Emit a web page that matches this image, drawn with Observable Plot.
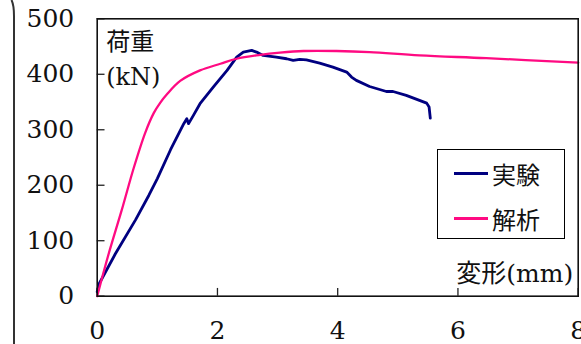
<!DOCTYPE html>
<html>
<head>
<meta charset="utf-8">
<script src="https://cdn.jsdelivr.net/npm/d3@7"></script>
<script src="https://cdn.jsdelivr.net/npm/@observablehq/plot@0.6"></script>
<style>
  html, body { margin: 0; padding: 0; background: #fff; }
  #wrap { position: relative; width: 581px; height: 344px; overflow: hidden; }
  #legend {
    position: absolute; left: 437px; top: 149px; width: 126px; height: 88px;
    border: 1.6px solid #000; background: #fff;
    font-family: "DejaVu Serif", "Noto Sans CJK JP", serif; font-size: 24px; color: #111;
  }
  .entry { position: absolute; left: 16px; height: 30px; display: flex; align-items: center; }
  .swatch { width: 34px; height: 3px; margin-right: 4px; }
  #bracket { position: absolute; left: 0; top: 0; }
</style>
</head>
<body>
<div id="wrap"></div>
<script>
// ---- data ----
const xTicks = [0, 2, 4, 6, 8];
const yTicks = [0, 100, 200, 300, 400, 500];

const seriesNames = ["実験", "解析"];
const seriesColors = ["#000080", "#FF0A82"];

// 実験 (experiment) : deformation (mm), load (kN)
const expX = [0, 0.03, 0.30, 0.64, 0.86, 1.0, 1.22, 1.44, 1.49, 1.52, 1.60, 1.71, 1.93, 2.16, 2.32, 2.43, 2.57, 2.65, 2.76, 2.98, 3.15, 3.26, 3.37, 3.48, 3.70, 3.92, 4.15, 4.23, 4.31, 4.53, 4.81, 4.92, 5.14, 5.36, 5.48, 5.52, 5.54];
const expY = [8, 22, 76, 138, 182, 212, 264, 311, 320, 311, 326, 347, 377, 407, 431, 440, 443, 440, 434, 431, 428, 425, 427, 426, 420, 413, 404, 395, 389, 378, 369, 369, 362, 353, 348, 341, 321];

// 解析 (analysis)
const anaX = [0, 0.19, 0.41, 0.61, 0.80, 0.94, 1.05, 1.16, 1.38, 1.71, 2.05, 2.32, 2.71, 3.04, 3.43, 3.98, 4.53, 5.36, 6.47, 8.0];
const anaY = [0, 76, 156, 232, 295, 330, 349, 364, 388, 407, 419, 428, 435, 439, 442, 442, 440, 434, 429, 421];

const expData = expX.map((x, i) => ({x, y: expY[i]}));
const anaData = anaX.map((x, i) => ({x, y: anaY[i]}));

const serif = "'DejaVu Serif', 'Noto Sans CJK JP', serif";

const chart = Plot.plot({
  width: 581,
  height: 344,
  marginLeft: 96.7,
  marginRight: 3.3,
  marginTop: 18.3,
  marginBottom: 48.3,
  style: {fontFamily: serif, fontSize: "25px", color: "#111", background: "transparent"},
  x: {domain: [0, 8], label: null},
  y: {domain: [0, 500], label: null},
  marks: [
    Plot.axisY(yTicks, {tickSize: 0, tickPadding: 23, fontSize: 25, fill: "#111", label: null}),
    Plot.axisX(xTicks, {tickSize: 0, tickPadding: 25, fontSize: 25, fill: "#111", label: null}),
    Plot.ruleY(yTicks, {x1: 0, x2: 0.13, stroke: "#222", strokeWidth: 1.3}),
    Plot.ruleX(xTicks, {y1: 0, y2: 14, stroke: "#222", strokeWidth: 1.3}),
    Plot.line(expData, {x: "x", y: "y", stroke: seriesColors[0], strokeWidth: 2.8, curve: "linear"}),
    Plot.line(anaData, {x: "x", y: "y", stroke: seriesColors[1], strokeWidth: 2.3, curve: "catmull-rom"}),
    Plot.frame({stroke: "#111", strokeWidth: 1.6}),
    Plot.text(["荷重"], {frameAnchor: "top-left", dx: 9, dy: 24, textAnchor: "start", lineAnchor: "middle", fontSize: 24, fill: "#111"}),
    Plot.text(["(kN)"], {frameAnchor: "top-left", dx: 9, dy: 59, textAnchor: "start", lineAnchor: "middle", fontSize: 24, fill: "#111"}),
    Plot.text(["変形(mm)"], {frameAnchor: "bottom-right", dx: -5, dy: -22, textAnchor: "end", lineAnchor: "middle", fontSize: 25, fill: "#111"})
  ]
});

const wrap = document.getElementById("wrap");
wrap.appendChild(chart);

// decorative bracket at left edge of the scan
const ns = "http://www.w3.org/2000/svg";
const br = document.createElementNS(ns, "svg");
br.setAttribute("id", "bracket");
br.setAttribute("width", "30");
br.setAttribute("height", "344");
const p = document.createElementNS(ns, "path");
p.setAttribute("d", "M11.5,0 Q14,5 14,16 L14,344");
p.setAttribute("fill", "none");
p.setAttribute("stroke", "#333");
p.setAttribute("stroke-width", "2");
br.appendChild(p);
wrap.appendChild(br);

// legend
const lg = document.createElement("div");
lg.id = "legend";
seriesNames.forEach((name, i) => {
  const e = document.createElement("div");
  e.className = "entry";
  e.style.top = (i === 0 ? 8 : 53) + "px";
  const s = document.createElement("div");
  s.className = "swatch";
  s.style.background = seriesColors[i];
  const t = document.createElement("span");
  t.textContent = name;
  e.appendChild(s);
  e.appendChild(t);
  lg.appendChild(e);
});
wrap.appendChild(lg);
</script>
</body>
</html>
